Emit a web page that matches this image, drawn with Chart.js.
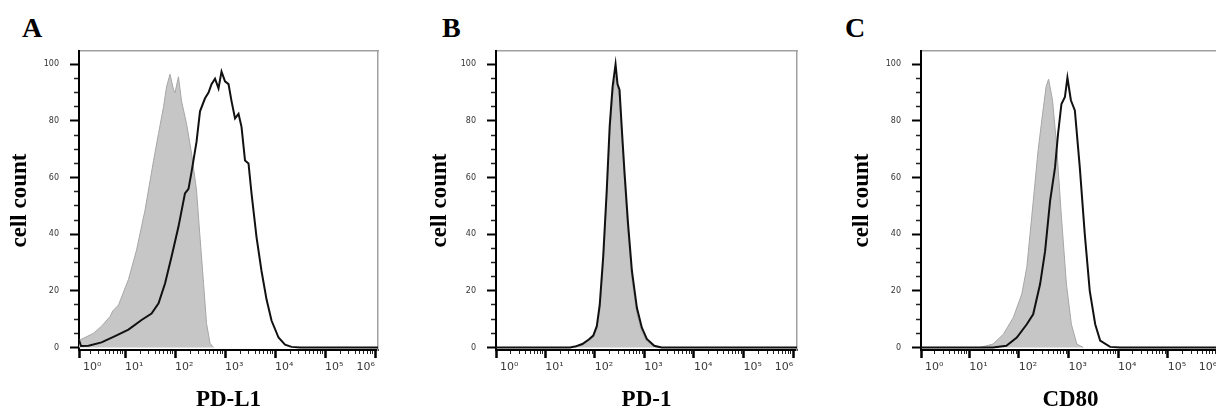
<!DOCTYPE html>
<html>
<head>
<meta charset="utf-8">
<script src="https://cdn.jsdelivr.net/npm/chart.js@4.4.1/dist/chart.umd.min.js"></script>
<style>
  html, body { margin: 0; padding: 0; background: #fff; overflow: hidden; }
  body { width: 1216px; height: 414px; position: relative; }
  canvas { position: absolute; top: 0; }
  .tag { position: absolute; top: 14px; font: bold 28px "Liberation Serif", "Times New Roman", serif; line-height: 28px; color: #000; }
</style>
</head>
<body>
<div class="tag" style="left:22px">A</div>
<div class="tag" style="left:442px">B</div>
<div class="tag" style="left:845px">C</div>
<canvas id="chart-a" width="400" height="414" style="left:0px"></canvas>
<canvas id="chart-b" width="399" height="414" style="left:420px"></canvas>
<canvas id="chart-c" width="400" height="414" style="left:842px"></canvas>
<script>
  "use strict";

  // axis ticks
  const X_DECADES = [10, 100, 1000, 10000, 100000, 1000000];
  const X_LABELS = ["10⁰", "10¹", "10²", "10³", "10⁴", "10⁵", "10⁶"];
  const X_MINOR_MANTISSA = [2, 3, 4, 5, 6, 7, 8, 9];
  const Y_MAJOR = [0, 20, 40, 60, 80, 100];
  const Y_MINOR = [5, 10, 15, 25, 30, 35, 45, 50, 55, 65, 70, 75, 85, 90, 95];
  const Y_MIN = -0.9;
  const Y_MAX = 104.7;

  // A: PD-L1 (grey = control, black = stained)
  const A_GREY_X = [1.2, 1.58, 2.34, 3.39, 5.0, 5.75, 7.41, 11.7, 17.0, 25.1, 37.2, 46.8, 58.9, 67.6, 79.4, 93.3, 100, 117, 135, 170, 214, 269, 316, 372, 427, 501, 589];
  const A_GREY_Y = [2.5, 3.5, 5, 7.5, 10.9, 13, 15, 24, 34.4, 48.5, 66, 75.6, 85, 92, 96.5, 91, 90, 95.6, 87, 79, 68.5, 55.6, 39, 22.6, 8.5, 1.5, 0];
  const A_BLACK_X = [1.2, 1.32, 1.86, 3.39, 6.31, 11.7, 21.4, 33.9, 46.8, 63.1, 85.1, 117, 158, 186, 214, 269, 316, 398, 468, 537, 631, 741, 851, 1000, 1175, 1349, 1585, 1862, 2138, 2512, 2951, 3388, 4266, 5370, 6761, 8511, 11750, 15850, 21380, 31620, 1200000];
  const A_BLACK_Y = [2.6, 0.5, 0.6, 1.8, 4, 6.3, 9.7, 12, 15.6, 22.6, 32, 42.6, 54.4, 56, 62, 72.6, 83.4, 88, 90, 93, 94.9, 91.5, 97.4, 94, 93, 87, 80.9, 82.5, 77.9, 66, 65, 54.4, 39, 27, 17, 9.5, 3.5, 1, 0.2, 0, 0];

  // B: PD-1
  const B_GREY_X = [39.8, 56.2, 75.9, 93.3, 110, 126, 148, 174, 200, 229, 263, 288, 316, 355, 398, 468, 562, 708, 891, 1122, 1585, 1995];
  const B_GREY_Y = [0, 0.8, 2.4, 3.6, 6.5, 13, 29, 52, 75, 89, 96, 92, 88, 73, 59, 41, 24, 12, 5.5, 2.2, 0.4, 0];
  const B_BLACK_X = [1.0, 31.6, 39.8, 56.2, 75.9, 93.3, 110, 126, 148, 174, 200, 229, 263, 288, 316, 355, 398, 468, 562, 708, 891, 1122, 1585, 2239, 1200000];
  const B_BLACK_Y = [0, 0, 0.3, 1.2, 2.8, 4.2, 7.5, 15, 32, 55, 78, 92, 100, 93, 91, 76, 62, 44, 27, 14, 7, 3, 0.6, 0, 0];

  // C: CD80
  const C_GREY_X = [16.6, 30.2, 49, 77.6, 115, 145, 182, 245, 302, 355, 398, 479, 575, 724, 912, 1148, 1479, 1995];
  const C_GREY_Y = [0, 1.2, 4.7, 10.6, 18.9, 28.3, 46, 69.6, 82.6, 92.1, 94.8, 87.3, 72, 46, 22.4, 8.2, 1.2, 0];
  const C_BLACK_X = [1.0, 30.2, 56.2, 91.2, 145, 195, 269, 339, 427, 537, 617, 724, 851, 955, 1122, 1349, 1698, 2138, 2692, 3467, 4365, 6918, 10960, 1200000];
  const C_BLACK_Y = [0, 0, 0.6, 3.5, 8.2, 11.7, 22.4, 34, 51.7, 63.5, 75.3, 86, 88.5, 95.3, 87.3, 83.7, 63.5, 40, 20, 8.2, 2.4, 0.2, 0, 0];

  const TICK_FONT = { family: "DejaVu Sans", size: 11 };
  const TITLE_FONT = { family: "Liberation Serif", size: 23, weight: "bold" };

  function points(xs, ys) {
    return xs.map((x, i) => ({ x, y: ys[i] }));
  }

  function minorX(min, max) {
    const out = [];
    [1, 10, 100, 1000, 10000, 100000].forEach((d) => {
      X_MINOR_MANTISSA.forEach((m) => {
        const v = m * d;
        if (v > min && v < max) out.push(v);
      });
    });
    return out;
  }

  // decade labels sit to the right of their tick, the last one ends at it
  const decadeLabels = {
    id: "decadeLabels",
    beforeDraw(chart) {
      const items = chart.scales.x.getLabelItems(chart.chartArea);
      if (!items.length) return;
      items[0].options.translation[0] += 4;
      items[items.length - 1].options.textAlign = "right";
    },
  };

  function makePanel(id, cfg) {
    const majorX = [cfg.xMin].concat(X_DECADES);
    return new Chart(document.getElementById(id), {
      type: "scatter",
      data: {
        datasets: [
          {
            data: points(cfg.blackX, cfg.blackY),
            showLine: true,
            borderColor: "#111",
            borderWidth: 2,
            pointRadius: 0,
            tension: 0,
            fill: false,
          },
          {
            data: points(cfg.greyX, cfg.greyY),
            showLine: true,
            borderColor: "#a6a6a6",
            borderWidth: 1,
            backgroundColor: "#c6c6c6",
            pointRadius: 0,
            tension: 0,
            fill: "origin",
          },
        ],
      },
      plugins: [decadeLabels],
      options: {
        responsive: false,
        devicePixelRatio: 1,
        animation: false,
        layout: { padding: { left: 0, top: 51, right: 22, bottom: 0 } },
        plugins: { legend: { display: false }, tooltip: { enabled: false } },
        scales: {
          x: {
            type: "logarithmic",
            position: "bottom",
            weight: 1,
            min: cfg.xMin,
            max: cfg.xMax,
            afterBuildTicks: (s) => { s.ticks = majorX.map((v) => ({ value: v })); },
            afterFit: (s) => { s.height = 64; },
            grid: { drawOnChartArea: false, tickLength: 8, tickWidth: 2.5, tickColor: "#000" },
            border: { color: "#000", width: 2 },
            ticks: {
              align: "start",
              padding: 3,
              color: "#3a3a3a",
              font: TICK_FONT,
              maxRotation: 0,
              autoSkip: false,
              callback: (v, i) => X_LABELS[i],
            },
            title: { display: true, text: cfg.xTitle, color: "#000", font: TITLE_FONT, padding: { top: 0, bottom: 0 } },
          },
          xMinor: {
            type: "logarithmic",
            position: "bottom",
            weight: 0,
            min: cfg.xMin,
            max: cfg.xMax,
            afterBuildTicks: (s) => { s.ticks = minorX(cfg.xMin, cfg.xMax).map((v) => ({ value: v })); },
            afterFit: (s) => { s.height = 0; },
            grid: { drawOnChartArea: false, tickLength: 4, tickWidth: 1, tickColor: "#222" },
            border: { display: false },
            ticks: { display: false },
          },
          xTop: {
            type: "linear",
            position: "top",
            afterFit: (s) => { s.height = 0; },
            grid: { display: false },
            border: { color: "#a0a0a0", width: 1.5 },
            ticks: { display: false },
          },
          y: {
            position: "left",
            weight: 1,
            min: Y_MIN,
            max: Y_MAX,
            afterBuildTicks: (s) => { s.ticks = Y_MAJOR.map((v) => ({ value: v })); },
            afterFit: (s) => { s.width = cfg.yWidth; },
            grid: { drawOnChartArea: false, tickLength: 9, tickWidth: 2, tickColor: "#000" },
            border: { color: "#000", width: 2 },
            ticks: { padding: 11, color: "#333", font: { family: "DejaVu Sans", size: 8 }, autoSkip: false },
            title: { display: true, text: "cell count", color: "#000", font: TITLE_FONT, padding: { top: 6, bottom: 0 } },
          },
          yMinor: {
            position: "left",
            weight: 0,
            min: Y_MIN,
            max: Y_MAX,
            afterBuildTicks: (s) => { s.ticks = Y_MINOR.map((v) => ({ value: v })); },
            afterFit: (s) => { s.width = 0; },
            grid: { drawOnChartArea: false, tickLength: 5, tickWidth: 1.5, tickColor: "#222" },
            border: { display: false },
            ticks: { display: false },
          },
          yRight: {
            position: "right",
            afterFit: (s) => { s.width = 0; },
            grid: { display: false },
            border: { color: "#a0a0a0", width: 1.5 },
            ticks: { display: false },
          },
        },
      },
    });
  }

  makePanel("chart-a", {
    xMin: 1.2, xMax: 1148000, yWidth: 79, xTitle: "PD-L1",
    greyX: A_GREY_X, greyY: A_GREY_Y, blackX: A_BLACK_X, blackY: A_BLACK_Y,
  });
  makePanel("chart-b", {
    xMin: 1.02, xMax: 1200000, yWidth: 76, xTitle: "PD-1",
    greyX: B_GREY_X, greyY: B_GREY_Y, blackX: B_BLACK_X, blackY: B_BLACK_Y,
  });
  makePanel("chart-c", {
    xMin: 1.07, xMax: 1135000, yWidth: 79, xTitle: "CD80",
    greyX: C_GREY_X, greyY: C_GREY_Y, blackX: C_BLACK_X, blackY: C_BLACK_Y,
  });
</script>
</body>
</html>
